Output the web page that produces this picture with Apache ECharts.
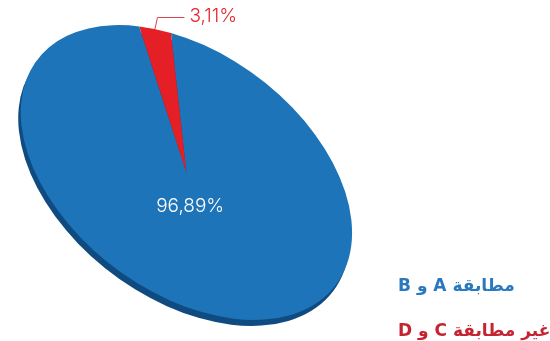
<!DOCTYPE html>
<html>
<head>
<meta charset="utf-8">
<script src="https://cdn.jsdelivr.net/npm/echarts@6/dist/echarts.min.js"></script>
<style>
html,body{margin:0;padding:0;background:#fff;}
#chart{width:550px;height:341px;}
</style>
</head>
<body>
<div id="chart"></div>
<script>
// ---- data ----
const categories = ['مطابقة A و B', 'غير مطابقة C و D'];
const values = [96.89, 3.11];
const valueLabels = ['96,89%', '3,11%'];

// ---- styling ----
const topColors = ['#1e74b8', '#e41f26'];
const sideColors = ['#0f4b80', '#8c1216'];
const legendColors = ['#2a79bf', '#c52330'];

const CX = 186.4, CY = 172.5;      // ellipse centre
const A = 187, B = 119.2;          // semi axes
const TILT = 37 * Math.PI / 180;   // clockwise tilt of the major axis
const START = -121 * Math.PI / 180;// start angle (screen, clockwise)
const SIDE_DX = -2.5, SIDE_DY = 6; // extrusion offset

const total = values.reduce((s, v) => s + v, 0);

function edgePoint(ang, k) {
  const ux = A * Math.cos(ang) * k, uy = B * Math.sin(ang) * k;
  const c = Math.cos(TILT), s = Math.sin(TILT);
  return [CX + ux * c - uy * s, CY + ux * s + uy * c];
}

function renderItem(params, api) {
  const i = params.dataIndex;
  const v = api.value(1);
  let before = 0;
  for (let j = 0; j < i; j++) before += values[j];
  const start = START + before / total * Math.PI * 2;
  const end = start + v / total * Math.PI * 2;
  const mid = (start + end) / 2;
  const children = [];
  children.push({
    type: 'group', x: CX + SIDE_DX, y: CY + SIDE_DY, rotation: -TILT, scaleX: A, scaleY: B,
    children: [{ type: 'sector', z2: 1,
      shape: { cx: 0, cy: 0, r0: 0, r: 1, startAngle: start, endAngle: end, clockwise: true },
      style: { fill: sideColors[i] } }]
  });
  children.push({
    type: 'group', x: CX, y: CY, rotation: -TILT, scaleX: A, scaleY: B,
    children: [{ type: 'sector', z2: 10,
      shape: { cx: 0, cy: 0, r0: 0, r: 1, startAngle: start, endAngle: end, clockwise: true },
      style: { fill: topColors[i] } }]
  });
  const share = v / total;
  if (share > 0.1) {
    const p = edgePoint(mid, 0.215);
    children.push({ type: 'text', z2: 20, x: p[0] - 3, y: p[1] + 2.5,
      style: { text: valueLabels[i], fill: '#ffffff', align: 'center', verticalAlign: 'middle',
        font: '300 19px Inter, "Open Sans", sans-serif' } });
  } else {
    const p = edgePoint(mid, 1);
    const e = [p[0] + 2.5, p[1] - 11.5];
    const h = [e[0] + 27, e[1]];
    children.push({ type: 'polyline', z2: 20,
      shape: { points: [p, e, h] },
      style: { stroke: '#d8434a', lineWidth: 1, fill: null } });
    children.push({ type: 'text', z2: 20, x: h[0] + 5, y: h[1] - 1.5,
      style: { text: valueLabels[i], fill: '#e3262d', align: 'left', verticalAlign: 'middle',
        font: '300 19px Inter, "Open Sans", sans-serif' } });
  }
  return { type: 'group', children: children };
}

const chart = echarts.init(document.getElementById('chart'), null, { renderer: 'canvas' });
chart.setOption({
  animation: false,
  backgroundColor: '#ffffff',
  series: [{
    type: 'custom',
    coordinateSystem: 'none',
    renderItem: renderItem,
    data: categories.map((c, i) => ({ name: c, value: [i, values[i]] }))
  }],
  graphic: categories.map((c, i) => ({
    type: 'text', left: 398, top: 278 + i * 45,
    style: { text: '\u202B' + c + '\u202C', fill: legendColors[i],
      font: 'bold 17px "DejaVu Sans", sans-serif' }
  }))
});
</script>
</body>
</html>
